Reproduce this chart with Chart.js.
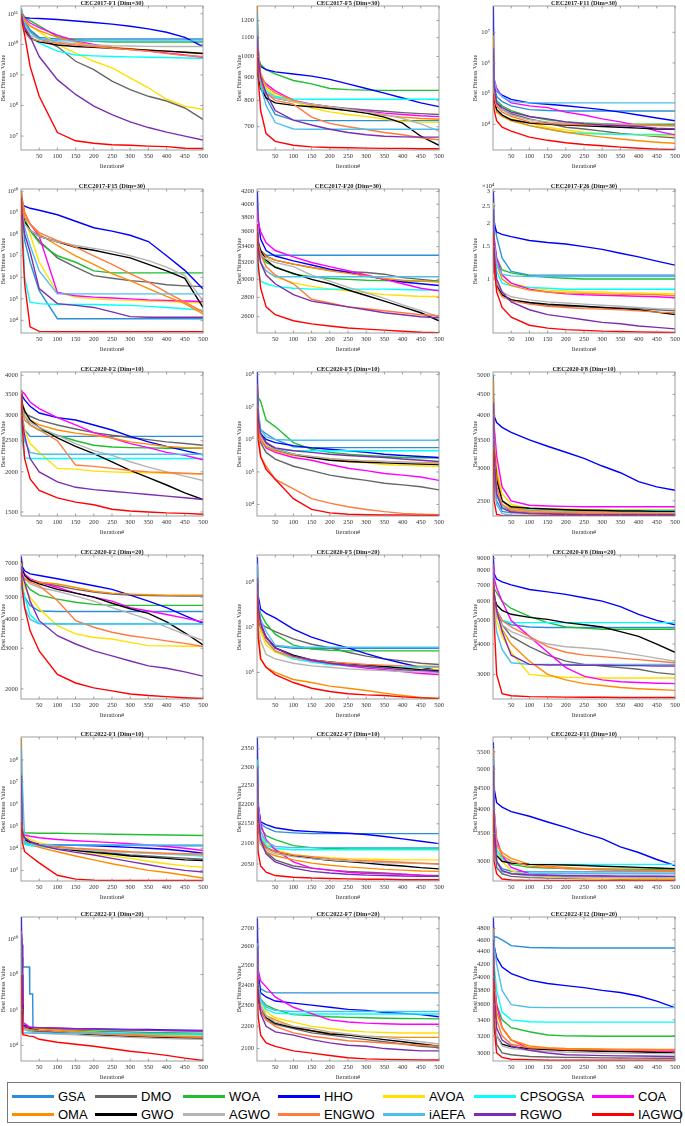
<!DOCTYPE html>
<html>
<head>
<meta charset="utf-8">
<script src="https://cdn.jsdelivr.net/npm/chart.js@4.4.1/dist/chart.umd.min.js"></script>
<style>
  body { margin: 0; background: #fff; }
  #page { position: relative; width: 685px; height: 1126px; overflow: hidden; background: #fff; }
  #page canvas { position: absolute; }
  #legend { position: absolute; left: 7px; top: 1082px; width: 674px; height: 41px; border: 1px solid #777; box-sizing: border-box;
            font-family: 'Liberation Sans', Arial, sans-serif; font-size: 13px; color: #000; }
  .item { position: absolute; height: 16px; line-height: 16px; white-space: nowrap; }
  .swatch { display: inline-block; width: 42px; height: 3px; vertical-align: middle; margin-right: 4px; position: relative; top: -1px; }
</style>
</head>
<body>
<div id="page"><div id="legend"></div></div>
<script>
const algorithms = ['GSA', 'DMO', 'WOA', 'HHO', 'AVOA', 'CPSOGSA', 'COA',
                    'OMA', 'GWO', 'AGWO', 'ENGWO', 'iAEFA', 'RGWO', 'IAGWO'];
const lineColors = ['#2b8fd8', '#666666', '#1fbf2f', '#0000ff', '#ffe000', '#00ffff', '#ff00ff',
                    '#ff8c00', '#000000', '#b4b4b4', '#ff7a3c', '#4dbfee', '#7b2fb0', '#ff0000'];

// sampled iterations (x values)
const iterations = [1, 3, 10, 25, 50, 100, 150, 200, 250, 300, 350, 400, 450, 500];
const iterationsF1d20 = [1, 3, 5, 23, 24, 32, 33, 50, 100, 150, 200, 250, 300, 350, 400, 450, 500];

// y tick values
const ticks2017F1 = [1e7, 1e8, 1e9, 1e10, 1e11];
const ticks2017F5 = [700, 800, 900, 1000, 1100, 1200];
const ticks2017F11 = [1e4, 1e5, 1e6, 1e7];
const ticks2017F15 = [1e4, 1e5, 1e6, 1e7, 1e8, 1e9, 1e10];
const ticks2017F20 = [2600, 2800, 3000, 3200, 3400, 3600, 3800, 4000, 4200];
const ticks2017F26 = [1e4, 1.5e4, 2e4, 2.5e4, 3e4];
const ticks2020F2d10 = [1500, 2000, 2500, 3000, 3500, 4000];
const ticks2020F5d10 = [1e4, 1e5, 1e6, 1e7, 1e8];
const ticks2020F8d10 = [2500, 3000, 3500, 4000, 4500, 5000];
const ticks2020F2d20 = [2000, 3000, 4000, 5000, 6000, 7000];
const ticks2020F5d20 = [1e6, 1e7, 1e8];
const ticks2020F8d20 = [3000, 4000, 5000, 6000, 7000, 8000, 9000];
const ticks2022F1d10 = [1e3, 1e4, 1e5, 1e6, 1e7, 1e8];
const ticks2022F7d10 = [2050, 2100, 2150, 2200, 2250, 2300, 2350];
const ticks2022F11d10 = [3000, 3500, 4000, 4500, 5000, 5500];
const ticks2022F1d20 = [1e4, 1e6, 1e8, 1e10];
const ticks2022F7d20 = [2100, 2200, 2300, 2400, 2500, 2600, 2700];
const ticks2022F12d20 = [3000, 3200, 3400, 3600, 3800, 4000, 4200, 4400, 4600, 4800];

// best fitness values, one row per algorithm (same order as algorithms)
const cec2017F1 = [
  [1.5e11, 1e11, 6e10, 3e10, 1.7e10, 1.5e10, 1.5e10, 1.5e10, 1.5e10, 1.5e10, 1.5e10, 1.5e10, 1.5e10, 1.5e10],
  [1.2e11, 9e10, 5e10, 2.6e10, 1.6e10, 8.5e9, 2.8e9, 1.5e9, 6.3e8, 3.3e8, 2e8, 1.4e8, 8.3e7, 3.5e7],
  [1.3e11, 1e11, 8e10, 6e10, 4e10, 1.8e10, 1.4e10, 1.25e10, 1.2e10, 1.2e10, 1.2e10, 1.2e10, 1.2e10, 1.2e10],
  [8e10, 7.6e10, 7.4e10, 7.2e10, 7e10, 6.5e10, 5.8e10, 5.2e10, 4.6e10, 3.9e10, 3.2e10, 2.5e10, 1.7e10, 8.5e9],
  [1.2e11, 9e10, 6e10, 4e10, 2.6e10, 1e10, 5.2e9, 2.8e9, 1.7e9, 8e8, 3.8e8, 1.6e8, 9.5e7, 7.4e7],
  [1.1e11, 7e10, 3.5e10, 1.8e10, 1.1e10, 6e9, 4.5e9, 4.2e9, 4e9, 3.9e9, 3.8e9, 3.7e9, 3.6e9, 3.5e9],
  [1.3e11, 1e11, 7e10, 5e10, 3.5e10, 2e10, 1.3e10, 1e10, 8e9, 6.8e9, 6e9, 5.2e9, 4.5e9, 3.8e9],
  [1.3e11, 1e11, 6.5e10, 4e10, 2.8e10, 1.7e10, 1.2e10, 9e9, 8e9, 7.2e9, 6.5e9, 6e9, 5.5e9, 5e9],
  [1.1e11, 7e10, 3e10, 1.6e10, 1.2e10, 9.5e9, 8.5e9, 8e9, 7.5e9, 7e9, 6.5e9, 6e9, 5.5e9, 5e9],
  [1.2e11, 8e10, 4e10, 2e10, 1.5e10, 1.2e10, 1.05e10, 9.5e9, 9e9, 8.8e9, 8.6e9, 8.5e9, 8.5e9, 8.5e9],
  [1.2e11, 6e10, 2.5e10, 1.5e10, 1.3e10, 1.1e10, 9.5e9, 8.5e9, 7.5e9, 6.8e9, 6e9, 5e9, 4.3e9, 4e9],
  [1.4e11, 9e10, 5e10, 2.5e10, 1.5e10, 1.32e10, 1.3e10, 1.3e10, 1.3e10, 1.3e10, 1.3e10, 1.3e10, 1.3e10, 1.3e10],
  [1e11, 7e10, 3.5e10, 1.8e10, 4e9, 7e8, 2.3e8, 9.5e7, 5e7, 2.9e7, 1.9e7, 1.35e7, 1e7, 7.4e6],
  [1e11, 5e10, 2e10, 1.9e9, 2e8, 1.3e7, 7e6, 5.8e6, 5.2e6, 5e6, 4.7e6, 4.5e6, 4e6, 3.9e6]
];
const cec2017F5 = [
  [1150, 1050, 880, 810, 745, 724, 722, 722, 722, 722, 722, 722, 722, 722],
  [1050, 960, 880, 830, 810, 795, 785, 775, 768, 762, 757, 752, 748, 745],
  [1100, 1000, 960, 935, 915, 885, 870, 850, 845, 843, 842, 842, 842, 842],
  [1100, 990, 950, 935, 925, 915, 905, 890, 870, 850, 830, 810, 790, 775],
  [1200, 1000, 900, 850, 820, 795, 770, 755, 745, 737, 728, 720, 717, 716],
  [1150, 980, 890, 840, 815, 806, 805, 805, 805, 805, 805, 805, 805, 805],
  [1180, 1000, 900, 870, 840, 800, 785, 775, 765, 757, 750, 745, 740, 737],
  [1290, 1050, 920, 860, 830, 800, 780, 770, 760, 750, 742, 735, 730, 727],
  [960, 900, 850, 810, 790, 780, 775, 768, 760, 750, 735, 713, 667, 637],
  [1000, 940, 880, 830, 810, 795, 785, 775, 765, 755, 745, 730, 710, 685],
  [1000, 940, 880, 830, 800, 785, 735, 712, 700, 690, 680, 672, 662, 655],
  [1250, 1050, 860, 780, 715, 692, 691, 691, 691, 691, 691, 691, 691, 691],
  [1110, 1000, 900, 830, 760, 724, 706, 691, 680, 672, 667, 665, 664, 664],
  [1040, 900, 760, 676, 650, 637, 632, 630, 629, 628, 627, 627, 626, 626]
];
const cec2017F11 = [
  [1e6, 2e5, 8e4, 5.5e4, 4e4, 3e4, 2.8e4, 2.7e4, 2.7e4, 2.7e4, 2.7e4, 2.7e4, 2.7e4, 2.7e4],
  [1e5, 7e4, 5e4, 3e4, 2.2e4, 1.5e4, 1.1e4, 8e3, 7e3, 6e3, 5e3, 4.5e3, 4e3, 3.6e3],
  [2e5, 1e5, 6e4, 4e4, 2.8e4, 1.8e4, 1.4e4, 1.2e4, 1.1e4, 1.05e4, 1e4, 1e4, 1e4, 1e4],
  [7e7, 1.4e5, 1.2e5, 9e4, 6.5e4, 5e4, 4.5e4, 4e4, 3.5e4, 3e4, 2.5e4, 2e4, 1.6e4, 1.3e4],
  [3e5, 8e4, 3e4, 2e4, 1.5e4, 1.1e4, 8e3, 6.5e3, 5.5e3, 5e3, 4.7e3, 4.5e3, 4.3e3, 4.2e3],
  [5e5, 9e4, 3e4, 2e4, 1.4e4, 9e3, 7e3, 5.5e3, 5e3, 4.8e3, 4.7e3, 4.7e3, 4.7e3, 4.7e3],
  [2e6, 3e5, 1.5e5, 8e4, 5e4, 4e4, 3.5e4, 2.5e4, 2e4, 1.5e4, 1.2e4, 9e3, 6e3, 4.5e3],
  [8e6, 1e5, 2.5e4, 1.8e4, 1.3e4, 9e3, 7e3, 5.5e3, 4.5e3, 3.8e3, 3.3e3, 2.9e3, 2.6e3, 2.4e3],
  [2e5, 7e4, 3e4, 2e4, 1.4e4, 1.1e4, 1e4, 9.5e3, 9e3, 8.5e3, 8e3, 7.5e3, 7e3, 6.8e3],
  [3e5, 8e4, 4e4, 3e4, 2e4, 1.4e4, 1.2e4, 1.1e4, 1.05e4, 1e4, 9.8e3, 9.5e3, 9.2e3, 9e3],
  [5e5, 8e4, 4e4, 2.5e4, 1.8e4, 1.2e4, 1.05e4, 1e4, 9.7e3, 9.5e3, 9.3e3, 9.2e3, 9.1e3, 9e3],
  [3e6, 3e5, 1.2e5, 8e4, 5.5e4, 5e4, 5e4, 5e4, 5e4, 5e4, 5e4, 5e4, 5e4, 5e4],
  [3e6, 2e5, 5e4, 3.5e4, 2.5e4, 1.8e4, 1.5e4, 1.2e4, 1.05e4, 9.5e3, 9e3, 8.5e3, 7.5e3, 7e3],
  [1e5, 3e4, 1.3e4, 8e3, 6e3, 3.8e3, 3e3, 2.5e3, 2.2e3, 2e3, 1.8e3, 1.65e3, 1.55e3, 1.5e3]
];
const cec2017F15 = [
  [3e9, 8e8, 5e7, 5e6, 2.4e5, 1.2e4, 1.2e4, 1.2e4, 1.2e4, 1.2e4, 1.2e4, 1.2e4, 1.2e4, 1.2e4],
  [5e9, 2e9, 5e8, 1.5e8, 5e7, 8e6, 3e6, 1.2e6, 9e5, 7e5, 6e5, 4.5e5, 4e5, 3.7e5],
  [6e9, 2e9, 5e8, 1.5e8, 4e7, 1e7, 5e6, 2e6, 1.6e6, 1.6e6, 1.6e6, 1.6e6, 1.6e6, 1.6e6],
  [1e10, 2.5e9, 2e9, 1.6e9, 1.3e9, 8e8, 4e8, 2e8, 1.4e8, 9e7, 4.6e7, 1e7, 2.1e6, 2.9e5],
  [6e9, 2e9, 5e8, 1e8, 5e6, 2e5, 1.2e5, 1e5, 9e4, 8.5e4, 8e4, 7.5e4, 7e4, 6.5e4],
  [5e9, 8e8, 1e6, 7e4, 6e4, 5.5e4, 5.5e4, 5.5e4, 5.2e4, 5e4, 4.5e4, 4e4, 3.5e4, 3e4],
  [6e9, 4e9, 1e9, 3e8, 8e7, 2e5, 1.4e5, 1.2e5, 1.1e5, 1e5, 9e4, 8.5e4, 8e4, 7.6e4],
  [1e10, 5e9, 1e9, 3e8, 1e8, 3e7, 1e7, 4e6, 1.5e6, 7e5, 3e5, 1.3e5, 6e4, 2e4],
  [5e9, 1e9, 4e8, 1.5e8, 8e7, 4.5e7, 2.5e7, 1.8e7, 1.2e7, 8e6, 4e6, 2e6, 9e5, 4e4],
  [5e9, 1e9, 3e8, 1.5e8, 8e7, 4.5e7, 3e7, 2.2e7, 1.6e7, 1e7, 6e6, 3e6, 1.2e6, 8e4],
  [4e9, 1.5e9, 6e8, 3e8, 1.2e8, 5e7, 2.5e7, 1e7, 4e6, 1.5e6, 6e5, 2e5, 7e4, 2.5e4],
  [5e9, 1e9, 2e8, 3e7, 2e6, 1.7e5, 1.7e5, 1.7e5, 1.7e5, 1.7e5, 1.7e5, 1.7e5, 1.7e5, 1.7e5],
  [3e9, 8e8, 1e8, 1.5e7, 3e5, 6e4, 5e4, 4e4, 2.5e4, 1.5e4, 1.4e4, 1.4e4, 1.4e4, 1.4e4],
  [5e9, 1e8, 5e5, 5e3, 3.1e3, 3e3, 3e3, 3e3, 3e3, 3e3, 3e3, 3e3, 3e3, 3e3]
];
const cec2017F20 = [
  [3700, 3500, 3350, 3290, 3290, 3290, 3290, 3290, 3290, 3290, 3290, 3290, 3290, 3290],
  [3500, 3420, 3350, 3280, 3230, 3180, 3140, 3110, 3090, 3080, 3060, 3020, 3000, 2980],
  [3600, 3400, 3300, 3200, 3150, 3060, 3030, 3010, 3000, 2990, 2985, 2980, 2980, 2980],
  [4200, 3800, 3500, 3350, 3280, 3220, 3170, 3120, 3080, 3040, 3000, 2970, 2950, 2930],
  [3500, 3300, 3200, 3100, 3030, 2960, 2920, 2890, 2870, 2850, 2830, 2820, 2810, 2810],
  [3400, 3100, 2980, 2950, 2920, 2900, 2890, 2890, 2890, 2890, 2890, 2885, 2880, 2880],
  [3900, 3750, 3600, 3450, 3350, 3270, 3200, 3150, 3100, 3050, 3000, 2950, 2900, 2870],
  [3600, 3450, 3350, 3270, 3230, 3180, 3140, 3100, 3070, 3040, 3010, 2990, 2980, 2970],
  [3600, 3450, 3350, 3230, 3140, 3070, 3000, 2950, 2880, 2820, 2760, 2700, 2640, 2560],
  [3500, 3400, 3300, 3240, 3200, 3150, 3050, 2980, 2910, 2850, 2790, 2720, 2660, 2600],
  [3700, 3450, 3300, 3150, 3050, 2950, 2780, 2740, 2700, 2680, 2660, 2640, 2620, 2610],
  [3600, 3400, 3200, 3100, 3030, 3030, 3030, 3030, 3030, 3030, 3030, 3030, 3030, 3030],
  [3700, 3400, 3200, 3050, 2950, 2830, 2760, 2730, 2700, 2670, 2640, 2620, 2600, 2590],
  [3700, 3200, 2900, 2700, 2620, 2560, 2530, 2510, 2490, 2480, 2470, 2460, 2450, 2445]
];
const cec2017F26 = [
  [22000, 21000, 17000, 13000, 11000, 10500, 10500, 10500, 10500, 10500, 10500, 10500, 10500, 10500],
  [15000, 12000, 9500, 8200, 7700, 7400, 7200, 7100, 7050, 7000, 6950, 6900, 6800, 6700],
  [20000, 16000, 13000, 11200, 10800, 10400, 10200, 10100, 10000, 10000, 10000, 10000, 10000, 10000],
  [30000, 20000, 18000, 17500, 17000, 16200, 15800, 15500, 15000, 14500, 13800, 13200, 12500, 11900],
  [26000, 16000, 12000, 10500, 9500, 9000, 8700, 8600, 8500, 8500, 8400, 8400, 8350, 8300],
  [25000, 15000, 11000, 9500, 9200, 9000, 8900, 8800, 8800, 8800, 8800, 8800, 8800, 8800],
  [24000, 17000, 13000, 10500, 9500, 8800, 8500, 8300, 8200, 8150, 8100, 8050, 8000, 7900],
  [20000, 15000, 12000, 10000, 9200, 8700, 8500, 8400, 8350, 8300, 8250, 8250, 8200, 8100],
  [14000, 11000, 9200, 8200, 7700, 7450, 7300, 7200, 7100, 7000, 6900, 6800, 6600, 6400],
  [15000, 11500, 9500, 8500, 8000, 7700, 7500, 7400, 7300, 7200, 7100, 7000, 6900, 6850],
  [16000, 11000, 9000, 8000, 7600, 7300, 7100, 7000, 6900, 6850, 6800, 6700, 6600, 6550],
  [25000, 16000, 12000, 10600, 10400, 10300, 10300, 10300, 10300, 10300, 10300, 10300, 10300, 10300],
  [24000, 14000, 10000, 8500, 7500, 6800, 6400, 6200, 6000, 5800, 5700, 5550, 5450, 5350],
  [18000, 12000, 8500, 7000, 6200, 5600, 5400, 5300, 5250, 5200, 5180, 5150, 5130, 5120]
];
const cec2020F2d10 = [
  [3300, 3000, 2700, 2580, 2580, 2580, 2580, 2580, 2580, 2580, 2580, 2580, 2580, 2580],
  [3200, 3100, 3050, 2980, 2900, 2800, 2720, 2650, 2600, 2560, 2520, 2480, 2450, 2420],
  [3400, 3150, 3000, 2800, 2700, 2600, 2500, 2420, 2390, 2380, 2375, 2370, 2370, 2370],
  [3600, 3450, 3350, 3200, 3050, 2950, 2900, 2800, 2700, 2580, 2480, 2400, 2330, 2260],
  [3300, 2900, 2700, 2450, 2300, 2050, 2040, 2010, 2000, 1990, 1985, 1980, 1975, 1970],
  [3000, 2500, 2210, 2200, 2200, 2200, 2200, 2200, 2200, 2200, 2200, 2200, 2200, 2200],
  [3600, 3550, 3500, 3300, 3150, 2950, 2800, 2650, 2550, 2450, 2380, 2300, 2250, 2180],
  [3600, 3300, 3100, 2900, 2800, 2700, 2640, 2600, 2550, 2480, 2440, 2400, 2380, 2370],
  [3500, 3250, 3100, 2900, 2750, 2550, 2400, 2280, 2150, 2020, 1920, 1820, 1720, 1640],
  [3300, 3100, 3000, 2850, 2750, 2600, 2450, 2330, 2250, 2150, 2070, 2000, 1940, 1880],
  [3400, 3100, 2900, 2800, 2700, 2500, 2100, 2080, 2050, 2020, 2000, 1990, 1980, 1970],
  [3200, 2800, 2500, 2300, 2270, 2270, 2270, 2270, 2270, 2270, 2270, 2270, 2270, 2270],
  [3300, 2900, 2600, 2200, 2000, 1860, 1790, 1760, 1740, 1720, 1700, 1680, 1660, 1640],
  [3500, 2800, 2200, 1900, 1750, 1660, 1610, 1580, 1530, 1510, 1500, 1490, 1485, 1475]
];
const cec2020F5d10 = [
  [3e7, 5e6, 2e6, 1.5e6, 1e6, 6e5, 5.6e5, 5.6e5, 5.6e5, 5.6e5, 5.6e5, 5.6e5, 5.6e5, 5.6e5],
  [1e7, 2e6, 8e5, 4e5, 2.5e5, 1.5e5, 1.1e5, 8e4, 6.5e4, 5.5e4, 4.5e4, 4e4, 3.5e4, 2.8e4],
  [3e7, 2e7, 1.5e7, 4e6, 2.5e6, 8e5, 5e5, 4e5, 3.5e5, 3.2e5, 3e5, 2.8e5, 2.75e5, 2.7e5],
  [1.2e8, 3e6, 1.5e6, 1e6, 8e5, 6.5e5, 5.5e5, 5e5, 4.5e5, 4e5, 3.5e5, 3.2e5, 3e5, 2.8e5],
  [2e7, 3e6, 1e6, 6e5, 4.5e5, 3.5e5, 3e5, 2.5e5, 2.1e5, 1.9e5, 1.7e5, 1.6e5, 1.55e5, 1.5e5],
  [2e7, 3e6, 1e6, 6e5, 5e5, 4.6e5, 4.5e5, 4.5e5, 4.5e5, 4.5e5, 4.5e5, 4.5e5, 4.5e5, 4.5e5],
  [5e7, 5e6, 1e6, 5.5e5, 4e5, 2.8e5, 2.3e5, 1.7e5, 1.3e5, 1.1e5, 9e4, 8e4, 7e4, 5.5e4],
  [4e7, 4e6, 1e6, 6e5, 4.5e5, 3.2e5, 2.8e5, 2.5e5, 2.3e5, 2.2e5, 2.1e5, 2e5, 1.95e5, 1.9e5],
  [3e7, 4e6, 1.5e6, 8e5, 5e5, 3.5e5, 2.8e5, 2.3e5, 2.1e5, 2e5, 1.9e5, 1.8e5, 1.75e5, 1.7e5],
  [2e7, 4e6, 1.3e6, 7e5, 5e5, 3.5e5, 3e5, 2.6e5, 2.4e5, 2.2e5, 2.1e5, 2e5, 1.9e5, 1.8e5],
  [8e6, 2e6, 3e5, 1.5e5, 6e4, 3e4, 1.5e4, 1.1e4, 8.5e3, 7e3, 6e3, 5.3e3, 5e3, 4.8e3],
  [5e7, 1e7, 2e6, 1.2e6, 1e6, 9.5e5, 9.5e5, 9.5e5, 9.5e5, 9.5e5, 9.5e5, 9.5e5, 9.5e5, 9.5e5],
  [5e7, 5e6, 1.5e6, 8e5, 5.5e5, 4.5e5, 4e5, 3.5e5, 3.2e5, 3e5, 2.8e5, 2.5e5, 2.3e5, 2.1e5],
  [9e6, 1e6, 3e5, 1.2e5, 6e4, 1.5e4, 7e3, 5.5e3, 5e3, 4.8e3, 4.7e3, 4.7e3, 4.6e3, 4.6e3]
];
const cec2020F8d10 = [
  [5000, 3000, 2500, 2360, 2340, 2340, 2340, 2340, 2340, 2340, 2340, 2340, 2340, 2340],
  [3800, 3000, 2600, 2420, 2360, 2340, 2335, 2330, 2325, 2325, 2320, 2320, 2320, 2320],
  [4200, 3400, 2900, 2500, 2400, 2360, 2350, 2340, 2335, 2335, 2330, 2330, 2330, 2330],
  [4300, 4000, 3850, 3750, 3650, 3500, 3380, 3270, 3160, 3030, 2920, 2780, 2700, 2650],
  [4200, 3500, 3000, 2600, 2450, 2400, 2395, 2390, 2385, 2385, 2380, 2380, 2380, 2380],
  [4800, 3200, 2600, 2420, 2390, 2380, 2378, 2376, 2375, 2374, 2373, 2372, 2371, 2370],
  [4400, 3800, 3200, 2700, 2500, 2440, 2430, 2425, 2420, 2420, 2420, 2420, 2420, 2420],
  [4900, 3600, 2900, 2500, 2400, 2370, 2365, 2360, 2355, 2355, 2350, 2350, 2350, 2350],
  [4000, 3300, 2800, 2500, 2420, 2400, 2390, 2380, 2375, 2370, 2365, 2365, 2360, 2360],
  [4000, 3200, 2700, 2450, 2380, 2360, 2355, 2350, 2345, 2345, 2340, 2340, 2340, 2340],
  [4500, 3300, 2700, 2450, 2370, 2350, 2345, 2340, 2335, 2335, 2330, 2330, 2330, 2330],
  [4000, 2800, 2450, 2330, 2310, 2310, 2310, 2310, 2310, 2310, 2310, 2310, 2310, 2310],
  [4300, 3200, 2600, 2400, 2350, 2330, 2325, 2320, 2318, 2316, 2315, 2315, 2315, 2315],
  [3300, 2500, 2320, 2305, 2302, 2300, 2300, 2300, 2300, 2300, 2300, 2300, 2300, 2300]
];
const cec2020F2d20 = [
  [6000, 5500, 5000, 4600, 4350, 4330, 4330, 4330, 4330, 4330, 4330, 4330, 4330, 4330],
  [6500, 6200, 6000, 5900, 5800, 5600, 5400, 5250, 5150, 5100, 5080, 5060, 5050, 5050],
  [6600, 6200, 5800, 5400, 5100, 4900, 4750, 4650, 4600, 4600, 4600, 4600, 4600, 4600],
  [7500, 6800, 6500, 6300, 6200, 6000, 5800, 5600, 5400, 5100, 4800, 4500, 4150, 3850],
  [6500, 6000, 5500, 5000, 4450, 3760, 3460, 3340, 3290, 3180, 3080, 3070, 3060, 3060],
  [6800, 5800, 5000, 4200, 3850, 3830, 3830, 3830, 3830, 3830, 3830, 3830, 3830, 3830],
  [7000, 6600, 6300, 6000, 5800, 5500, 5200, 5000, 4800, 4500, 4350, 4200, 4050, 3900],
  [6700, 6300, 6000, 5900, 5800, 5700, 5500, 5300, 5200, 5150, 5120, 5100, 5100, 5100],
  [7200, 6600, 6200, 5900, 5700, 5400, 5200, 5000, 4700, 4450, 4250, 3900, 3500, 3100],
  [7000, 6400, 6000, 5700, 5500, 5300, 5050, 4800, 4500, 4250, 4000, 3700, 3450, 3250],
  [6200, 6100, 6000, 5800, 5600, 4830, 3950, 3700, 3520, 3400, 3320, 3230, 3150, 3050],
  [6500, 5500, 4500, 4000, 3830, 3820, 3820, 3820, 3820, 3820, 3820, 3820, 3820, 3820],
  [6800, 6300, 5800, 4800, 3950, 3400, 3130, 2920, 2780, 2640, 2515, 2455, 2370, 2270],
  [6500, 5500, 4500, 3570, 2920, 2310, 2120, 2020, 1960, 1900, 1870, 1850, 1830, 1815]
];
const cec2020F5d20 = [
  [1e8, 3e7, 1.2e7, 6e6, 3.8e6, 3.4e6, 3.4e6, 3.4e6, 3.4e6, 3.4e6, 3.4e6, 3.4e6, 3.4e6, 3.4e6],
  [5e7, 2e7, 1.2e7, 1e7, 8e6, 5.5e6, 4.2e6, 3.5e6, 2.8e6, 2.3e6, 2e6, 1.8e6, 1.6e6, 1.5e6],
  [8e7, 3e7, 2e7, 1.2e7, 7e6, 4e6, 3.3e6, 3.1e6, 3e6, 3e6, 3e6, 3e6, 3e6, 3e6],
  [3.5e8, 5e7, 2.5e7, 2e7, 1.6e7, 9e6, 6e6, 4.5e6, 3.5e6, 2.6e6, 2e6, 1.6e6, 1.3e6, 1.1e6],
  [5e7, 1.5e7, 8e6, 4e6, 2.8e6, 2e6, 1.7e6, 1.5e6, 1.4e6, 1.3e6, 1.25e6, 1.2e6, 1.17e6, 1.15e6],
  [8e7, 2e7, 1e7, 5e6, 3e6, 2e6, 1.7e6, 1.5e6, 1.4e6, 1.35e6, 1.32e6, 1.3e6, 1.3e6, 1.3e6],
  [6e7, 2e7, 1.2e7, 6e6, 3.5e6, 2.2e6, 1.8e6, 1.6e6, 1.4e6, 1.25e6, 1.15e6, 1.05e6, 9.5e5, 9e5],
  [2e8, 1e7, 2e6, 1.3e6, 1e6, 7e5, 6e5, 5e5, 4.5e5, 4e5, 3.5e5, 3.1e5, 2.8e5, 2.7e5],
  [5e7, 2e7, 1e7, 6e6, 3.5e6, 2.4e6, 1.9e6, 1.7e6, 1.55e6, 1.45e6, 1.35e6, 1.25e6, 1.15e6, 1.1e6],
  [4e7, 1e7, 5e6, 2.5e6, 2e6, 1.6e6, 1.4e6, 1.3e6, 1.2e6, 1.15e6, 1.1e6, 1.05e6, 1.02e6, 1e6],
  [6e7, 2e7, 1e7, 5e6, 3e6, 2.2e6, 1.9e6, 1.7e6, 1.6e6, 1.5e6, 1.45e6, 1.4e6, 1.38e6, 1.35e6],
  [2.5e8, 4e7, 1.5e7, 8e6, 4e6, 3.6e6, 3.6e6, 3.6e6, 3.6e6, 3.6e6, 3.6e6, 3.6e6, 3.6e6, 3.6e6],
  [1.2e8, 3e7, 1.2e7, 6e6, 3.5e6, 2.3e6, 1.9e6, 1.6e6, 1.45e6, 1.35e6, 1.25e6, 1.15e6, 1.1e6, 1.05e6],
  [5e7, 6e6, 2e6, 1.3e6, 9e5, 6e5, 4.5e5, 3.8e5, 3.4e5, 3.2e5, 3.1e5, 2.9e5, 2.75e5, 2.65e5]
];
const cec2020F8d20 = [
  [7500, 6500, 5500, 5000, 4800, 4700, 4680, 4680, 4680, 4680, 4680, 4680, 4680, 4680],
  [6500, 6000, 5500, 4800, 4300, 3900, 3600, 3400, 3300, 3250, 3200, 3150, 3050, 3000],
  [7000, 6800, 6500, 6000, 5600, 5200, 4900, 4700, 4650, 4600, 4600, 4600, 4600, 4600],
  [9200, 7800, 7400, 7200, 7000, 6700, 6550, 6400, 6200, 6000, 5700, 5300, 5000, 4800],
  [7000, 6000, 5000, 4300, 3700, 3000, 2950, 2920, 2910, 2900, 2900, 2900, 2900, 2900],
  [8000, 6500, 5500, 5000, 4900, 4900, 4900, 4900, 4900, 4900, 4900, 4900, 4900, 4900],
  [8500, 7500, 6800, 6000, 5000, 4300, 3700, 3200, 2950, 2850, 2800, 2780, 2760, 2750],
  [7500, 6500, 5500, 4600, 4000, 3400, 3000, 2850, 2750, 2700, 2650, 2620, 2600, 2580],
  [7000, 6200, 5800, 5500, 5300, 5150, 5050, 4900, 4800, 4700, 4500, 4300, 4000, 3700],
  [7500, 6000, 5200, 4800, 4500, 4200, 4000, 3900, 3850, 3800, 3700, 3600, 3500, 3400],
  [7200, 6200, 5500, 5000, 4700, 4300, 3900, 3700, 3600, 3550, 3500, 3450, 3400, 3350],
  [6500, 5500, 4500, 3800, 3350, 3300, 3300, 3300, 3300, 3300, 3300, 3300, 3300, 3300],
  [7500, 6500, 5500, 4500, 3600, 3300, 3280, 3280, 3270, 3270, 3260, 3260, 3250, 3250],
  [7200, 5000, 3000, 2500, 2450, 2430, 2425, 2420, 2415, 2415, 2410, 2410, 2410, 2410]
];
const cec2022F1d10 = [
  [3e7, 5e4, 1.6e4, 1.55e4, 1.5e4, 1.45e4, 1.42e4, 1.4e4, 1.38e4, 1.36e4, 1.34e4, 1.32e4, 1.3e4, 1.3e4],
  [2e6, 4e4, 2.5e4, 1.8e4, 1.5e4, 1.1e4, 9e3, 7e3, 6e3, 5e3, 4.5e3, 4e3, 3.6e3, 3.2e3],
  [5e6, 6e4, 5e4, 4.9e4, 4.8e4, 4.8e4, 4.6e4, 4.5e4, 4.3e4, 4.2e4, 4.1e4, 4e4, 3.9e4, 3.8e4],
  [8e6, 5e4, 3e4, 2e4, 1.5e4, 1.4e4, 1.35e4, 1.3e4, 1.2e4, 1.1e4, 1e4, 9e3, 7.5e3, 6e3],
  [3e6, 6e4, 4e4, 2.5e4, 1.8e4, 1.2e4, 8e3, 6e3, 4.5e3, 3.5e3, 2.6e3, 2e3, 1.6e3, 1.4e3],
  [5e6, 3e4, 1.5e4, 1.3e4, 1.2e4, 1e4, 9e3, 8e3, 7.2e3, 6.5e3, 6e3, 5.5e3, 5e3, 4.5e3],
  [1e7, 8e4, 4e4, 3.5e4, 3e4, 2.5e4, 2.2e4, 2e4, 1.8e4, 1.6e4, 1.4e4, 1.2e4, 1e4, 8e3],
  [1e9, 1e5, 2.5e4, 1.6e4, 1.1e4, 7e3, 4.5e3, 3e3, 2e3, 1.4e3, 1e3, 800, 600, 450],
  [4e6, 4e4, 2.5e4, 1.8e4, 1.4e4, 1e4, 8e3, 6.5e3, 5.5e3, 4.5e3, 4e3, 3.5e3, 3e3, 2.8e3],
  [2e6, 3e4, 2e4, 1.6e4, 1.3e4, 1e4, 9e3, 8e3, 7e3, 6.5e3, 6e3, 5.5e3, 5.2e3, 5e3],
  [3e6, 4e4, 2e4, 1.6e4, 1.4e4, 1.2e4, 1e4, 9e3, 8e3, 7e3, 6.5e3, 6e3, 5.7e3, 5.5e3],
  [4e8, 2e7, 2e4, 1.5e4, 1.45e4, 1.42e4, 1.4e4, 1.4e4, 1.4e4, 1.4e4, 1.4e4, 1.4e4, 1.4e4, 1.4e4],
  [2e7, 6e4, 3e4, 2e4, 1.4e4, 9e3, 6.5e3, 5e3, 3.5e3, 2.5e3, 1.8e3, 1.3e3, 1e3, 850],
  [1.5e5, 2e4, 7e3, 4.5e3, 2.2e3, 600, 400, 360, 350, 348, 346, 345, 345, 345]
];
const cec2022F7d10 = [
  [2320, 2200, 2150, 2140, 2130, 2127, 2125, 2125, 2125, 2125, 2125, 2125, 2125, 2125],
  [2200, 2150, 2100, 2080, 2060, 2045, 2040, 2035, 2032, 2030, 2028, 2025, 2023, 2022],
  [2250, 2180, 2140, 2120, 2110, 2095, 2090, 2088, 2087, 2087, 2087, 2087, 2087, 2087],
  [2380, 2200, 2155, 2148, 2140, 2133, 2130, 2128, 2126, 2123, 2118, 2112, 2106, 2100],
  [2250, 2170, 2130, 2100, 2085, 2072, 2068, 2065, 2063, 2062, 2061, 2060, 2060, 2060],
  [2320, 2200, 2120, 2095, 2088, 2085, 2085, 2085, 2085, 2085, 2085, 2085, 2085, 2085],
  [2280, 2200, 2150, 2110, 2085, 2055, 2040, 2035, 2030, 2027, 2026, 2025, 2023, 2020],
  [2250, 2150, 2100, 2080, 2070, 2060, 2052, 2047, 2043, 2040, 2037, 2035, 2033, 2032],
  [2200, 2150, 2110, 2090, 2080, 2070, 2064, 2059, 2056, 2052, 2048, 2045, 2041, 2038],
  [2220, 2150, 2100, 2085, 2075, 2068, 2063, 2060, 2057, 2055, 2053, 2052, 2051, 2050],
  [2220, 2160, 2110, 2090, 2080, 2072, 2068, 2063, 2060, 2058, 2056, 2054, 2052, 2050],
  [2300, 2200, 2130, 2105, 2093, 2090, 2090, 2090, 2090, 2090, 2090, 2090, 2090, 2090],
  [2300, 2180, 2110, 2075, 2055, 2040, 2032, 2028, 2025, 2023, 2022, 2021, 2020, 2020],
  [2190, 2080, 2045, 2030, 2022, 2018, 2016, 2015, 2014, 2013, 2013, 2012, 2012, 2012]
];
const cec2022F11d10 = [
  [4300, 3600, 3000, 2880, 2840, 2830, 2830, 2830, 2830, 2830, 2830, 2830, 2830, 2830],
  [4500, 3500, 2900, 2800, 2760, 2740, 2735, 2730, 2725, 2725, 2720, 2720, 2720, 2720],
  [4800, 3800, 3200, 3050, 2950, 2900, 2890, 2880, 2875, 2875, 2870, 2870, 2870, 2870],
  [5800, 4500, 4150, 4050, 3950, 3850, 3730, 3620, 3500, 3400, 3250, 3150, 3030, 2930],
  [5000, 3900, 3200, 3000, 2850, 2780, 2750, 2740, 2735, 2730, 2725, 2720, 2720, 2720],
  [5300, 3800, 3200, 3050, 2970, 2950, 2950, 2950, 2950, 2950, 2950, 2950, 2950, 2950],
  [5000, 4000, 3400, 3100, 2900, 2800, 2780, 2770, 2765, 2765, 2760, 2760, 2760, 2760],
  [5600, 4000, 3300, 3150, 3050, 2950, 2920, 2900, 2885, 2870, 2860, 2850, 2845, 2840],
  [4500, 3600, 3100, 3000, 2970, 2950, 2945, 2940, 2930, 2920, 2910, 2900, 2890, 2880],
  [4800, 3700, 3000, 2850, 2800, 2770, 2760, 2750, 2748, 2745, 2743, 2742, 2741, 2740],
  [5100, 3900, 3300, 3100, 3000, 2920, 2900, 2880, 2870, 2860, 2855, 2855, 2850, 2850],
  [5300, 4000, 3000, 2830, 2810, 2800, 2800, 2800, 2800, 2800, 2800, 2800, 2800, 2800],
  [5100, 3700, 3000, 2850, 2800, 2780, 2775, 2770, 2768, 2766, 2764, 2762, 2761, 2760],
  [4000, 3000, 2800, 2720, 2705, 2700, 2700, 2700, 2700, 2700, 2700, 2700, 2700, 2700]
];
const cec2022F1d20 = [
  [2e10, 1e9, 2.7e8, 2.7e8, 8e6, 8e6, 5e4, 4.8e4, 4.7e4, 4.6e4, 4.6e4, 4.5e4, 4.5e4, 4.5e4, 4.4e4, 4.4e4, 4.4e4],
  [5e9, 1e6, 9e4, 7e4, 7e4, 6.5e4, 6.5e4, 6e4, 5.2e4, 4.6e4, 4.1e4, 3.7e4, 3.3e4, 3e4, 2.8e4, 2.6e4, 2.4e4],
  [1e10, 5e6, 1e5, 9e4, 9e4, 8.8e4, 8.8e4, 8e4, 7.5e4, 7e4, 6.5e4, 6e4, 5.7e4, 5.4e4, 5.1e4, 5e4, 4.8e4],
  [1.8e11, 1e8, 1.5e5, 1.05e5, 1.05e5, 1e5, 1e5, 9.5e4, 9e4, 8.7e4, 8.5e4, 8.2e4, 8e4, 7.8e4, 7.5e4, 7.2e4, 7e4],
  [3e9, 1e6, 1.2e5, 9e4, 9e4, 8.5e4, 8.5e4, 8e4, 7e4, 6e4, 5.3e4, 4.8e4, 4.4e4, 4e4, 3.8e4, 3.6e4, 3.5e4],
  [2e9, 5e5, 8e4, 7.5e4, 7.5e4, 7.2e4, 7.2e4, 7e4, 6.3e4, 5.8e4, 5.3e4, 5e4, 4.7e4, 4.4e4, 4.2e4, 4.1e4, 4e4],
  [3e10, 2e7, 2e5, 1.1e5, 1.1e5, 1.05e5, 1.05e5, 1e5, 9.2e4, 8.6e4, 8e4, 7.6e4, 7.3e4, 7e4, 6.8e4, 6.6e4, 6.5e4],
  [5e8, 1e6, 1.2e5, 9.5e4, 9.5e4, 9e4, 9e4, 9e4, 7.5e4, 6.3e4, 5.3e4, 4.6e4, 4e4, 3.6e4, 3.3e4, 3.1e4, 3e4],
  [8e9, 2e6, 1.3e5, 9e4, 9e4, 8e4, 8e4, 7e4, 5.8e4, 4.8e4, 4.1e4, 3.6e4, 3.2e4, 2.9e4, 2.7e4, 2.6e4, 2.5e4],
  [4e9, 5e5, 8e4, 6e4, 6e4, 5.5e4, 5.5e4, 5e4, 4.4e4, 3.9e4, 3.4e4, 3.1e4, 2.8e4, 2.6e4, 2.4e4, 2.3e4, 2.2e4],
  [2e9, 8e5, 1e5, 8e4, 8e4, 7.5e4, 7.5e4, 7e4, 6e4, 5.2e4, 4.5e4, 4e4, 3.6e4, 3.3e4, 3.1e4, 2.9e4, 2.8e4],
  [1e10, 5e4, 5e4, 5e4, 5e4, 4.9e4, 4.9e4, 4.9e4, 4.8e4, 4.8e4, 4.7e4, 4.7e4, 4.6e4, 4.6e4, 4.5e4, 4.5e4, 4.5e4],
  [2e10, 5e9, 1.2e5, 1e5, 1e5, 1e5, 1e5, 9.8e4, 9.3e4, 8.8e4, 8.3e4, 7.9e4, 7.5e4, 7.2e4, 6.9e4, 6.7e4, 6.5e4],
  [1e8, 1e5, 4e4, 3.3e4, 3.3e4, 3.2e4, 3.2e4, 2.2e4, 1.5e4, 1.15e4, 8.8e3, 6.4e3, 4.6e3, 3.6e3, 2.7e3, 1.9e3, 1.4e3]
];
const cec2022F7d20 = [
  [2650, 2450, 2380, 2365, 2360, 2360, 2360, 2360, 2360, 2360, 2360, 2360, 2360, 2360],
  [2400, 2330, 2270, 2230, 2210, 2190, 2170, 2160, 2150, 2140, 2130, 2120, 2110, 2105],
  [2500, 2400, 2330, 2300, 2280, 2255, 2250, 2245, 2242, 2240, 2238, 2237, 2236, 2235],
  [2760, 2450, 2360, 2340, 2320, 2310, 2300, 2290, 2280, 2275, 2265, 2260, 2255, 2245],
  [2450, 2380, 2320, 2270, 2240, 2220, 2200, 2190, 2180, 2175, 2172, 2170, 2170, 2170],
  [2600, 2420, 2320, 2280, 2262, 2258, 2258, 2258, 2258, 2258, 2258, 2258, 2258, 2258],
  [2600, 2480, 2420, 2390, 2340, 2290, 2260, 2230, 2220, 2215, 2212, 2210, 2210, 2210],
  [2550, 2400, 2300, 2250, 2230, 2200, 2180, 2170, 2160, 2155, 2152, 2150, 2150, 2150],
  [2450, 2350, 2280, 2240, 2215, 2195, 2180, 2165, 2160, 2150, 2140, 2130, 2120, 2110],
  [2500, 2380, 2300, 2250, 2220, 2200, 2190, 2175, 2165, 2155, 2150, 2140, 2130, 2120],
  [2500, 2360, 2280, 2230, 2200, 2170, 2155, 2145, 2135, 2130, 2125, 2120, 2115, 2110],
  [2620, 2400, 2330, 2290, 2275, 2270, 2270, 2270, 2270, 2270, 2270, 2270, 2270, 2270],
  [2600, 2380, 2260, 2200, 2175, 2160, 2140, 2125, 2115, 2110, 2100, 2095, 2090, 2090],
  [2450, 2250, 2160, 2125, 2110, 2090, 2080, 2070, 2060, 2055, 2053, 2052, 2051, 2050]
];
const cec2022F12d20 = [
  [4650, 4650, 4650, 4600, 4500, 4470, 4465, 4460, 4460, 4460, 4460, 4460, 4460, 4460],
  [4100, 3500, 3100, 3000, 2980, 2960, 2955, 2950, 2948, 2945, 2943, 2942, 2941, 2940],
  [4400, 3900, 3600, 3400, 3300, 3250, 3210, 3200, 3198, 3196, 3195, 3195, 3195, 3195],
  [5000, 4500, 4300, 4150, 4050, 3950, 3900, 3870, 3840, 3800, 3770, 3720, 3650, 3560],
  [4300, 3900, 3500, 3300, 3150, 3050, 3040, 3030, 3028, 3026, 3024, 3022, 3021, 3020],
  [4600, 4200, 3800, 3500, 3400, 3375, 3370, 3370, 3370, 3370, 3370, 3370, 3370, 3370],
  [4500, 4000, 3600, 3300, 3150, 3050, 3040, 3030, 3028, 3026, 3024, 3022, 3021, 3020],
  [4800, 4000, 3500, 3300, 3150, 3080, 3060, 3050, 3048, 3046, 3044, 3042, 3041, 3040],
  [4200, 3600, 3200, 3100, 3070, 3050, 3040, 3030, 3025, 3020, 3015, 3010, 3005, 3000],
  [4300, 3600, 3200, 3080, 3050, 3030, 3020, 3010, 3005, 3000, 2998, 2995, 2992, 2990],
  [4600, 3900, 3400, 3200, 3100, 3060, 3050, 3040, 3038, 3036, 3034, 3032, 3031, 3030],
  [4700, 4500, 4200, 3800, 3600, 3565, 3560, 3560, 3560, 3560, 3560, 3560, 3560, 3560],
  [4600, 3800, 3300, 3150, 3080, 3030, 3000, 2980, 2975, 2970, 2967, 2965, 2962, 2960],
  [4100, 3300, 3000, 2950, 2930, 2925, 2920, 2920, 2920, 2920, 2920, 2920, 2920, 2920]
];

const panels = [
  { title: 'CEC2017-F1 (Dim=30)',  x: iterations, data: cec2017F1,  ticks: ticks2017F1,  min: 3.5e6, max: 1.8e11, pow: true },
  { title: 'CEC2017-F5 (Dim=30)',  x: iterations, data: cec2017F5,  ticks: ticks2017F5,  min: 622,   max: 1292 },
  { title: 'CEC2017-F11 (Dim=30)', x: iterations, data: cec2017F11, ticks: ticks2017F11, min: 1450,  max: 7.2e7, pow: true },
  { title: 'CEC2017-F15 (Dim=30)', x: iterations, data: cec2017F15, ticks: ticks2017F15, min: 2600,  max: 1.26e10, pow: true },
  { title: 'CEC2017-F20 (Dim=30)', x: iterations, data: cec2017F20, ticks: ticks2017F20, min: 2443,  max: 4240 },
  { title: 'CEC2017-F26 (Dim=30)', x: iterations, data: cec2017F26, ticks: ticks2017F26, min: 5080,  max: 30900, factor: 4 },
  { title: 'CEC2020-F2 (Dim=10)',  x: iterations, data: cec2020F2d10, ticks: ticks2020F2d10, min: 1457, max: 4094 },
  { title: 'CEC2020-F5 (Dim=10)',  x: iterations, data: cec2020F5d10, ticks: ticks2020F5d10, min: 4400, max: 1.2e8, pow: true },
  { title: 'CEC2020-F8 (Dim=10)',  x: iterations, data: cec2020F8d10, ticks: ticks2020F8d10, min: 2300, max: 5090 },
  { title: 'CEC2020-F2 (Dim=20)',  x: iterations, data: cec2020F2d20, ticks: ticks2020F2d20, min: 1807, max: 7610 },
  { title: 'CEC2020-F5 (Dim=20)',  x: iterations, data: cec2020F5d20, ticks: ticks2020F5d20, min: 2.6e5, max: 3.9e8, pow: true },
  { title: 'CEC2020-F8 (Dim=20)',  x: iterations, data: cec2020F8d20, ticks: ticks2020F8d20, min: 2377, max: 9290 },
  { title: 'CEC2022-F1 (Dim=10)',  x: iterations, data: cec2022F1d10, ticks: ticks2022F1d10, min: 330, max: 1.1e9, pow: true },
  { title: 'CEC2022-F7 (Dim=10)',  x: iterations, data: cec2022F7d10, ticks: ticks2022F7d10, min: 2009, max: 2383 },
  { title: 'CEC2022-F11 (Dim=10)', x: iterations, data: cec2022F11d10, ticks: ticks2022F11d10, min: 2690, max: 5970 },
  { title: 'CEC2022-F1 (Dim=20)',  x: iterationsF1d20, data: cec2022F1d20, ticks: ticks2022F1d20, min: 1300, max: 1.8e11, pow: true },
  { title: 'CEC2022-F7 (Dim=20)',  x: iterations, data: cec2022F7d20, ticks: ticks2022F7d20, min: 2046, max: 2767 },
  { title: 'CEC2022-F12 (Dim=20)', x: iterations, data: cec2022F12d20, ticks: ticks2022F12d20, min: 2910, max: 5015 }
];

const xTicks = [50, 100, 150, 200, 250, 300, 350, 400, 450, 500];

// layout of the 6 x 3 grid
const colLeft = [20.5, 257, 493];
const rowTop = [6, 189, 372, 555, 737, 917];
const plotW = 182, plotH = 144;
const padL = 24, padR = 8, padT = 10, padB = 20;
const serif = "'Liberation Serif', 'Times New Roman', serif";

function sup(n) {
  const m = { '0': '\u2070', '1': '\u00b9', '2': '\u00b2', '3': '\u00b3', '4': '\u2074', '5': '\u2075',
              '6': '\u2076', '7': '\u2077', '8': '\u2078', '9': '\u2079', '-': '\u207b' };
  return String(n).split('').map(c => m[c]).join('');
}

// box, inward tick marks, panel title and exponent note
const framePlugin = {
  id: 'frame',
  afterDatasetsDraw(chart, args, opts) {
    const { ctx, chartArea: a } = chart;
    ctx.save();
    ctx.strokeStyle = '#888';
    ctx.lineWidth = 0.8;
    ctx.strokeRect(a.left, a.top, a.right - a.left, a.bottom - a.top);
    ctx.beginPath();
    chart.scales.x.ticks.forEach(t => {
      const px = chart.scales.x.getPixelForValue(t.value);
      ctx.moveTo(px, a.bottom); ctx.lineTo(px, a.bottom - 2.5);
      ctx.moveTo(px, a.top); ctx.lineTo(px, a.top + 2.5);
    });
    chart.scales.y.ticks.forEach(t => {
      const py = chart.scales.y.getPixelForValue(t.value);
      ctx.moveTo(a.left, py); ctx.lineTo(a.left + 2.5, py);
      ctx.moveTo(a.right, py); ctx.lineTo(a.right - 2.5, py);
    });
    ctx.stroke();

    ctx.fillStyle = '#1a1a1a';
    ctx.font = 'bold 6.4px ' + serif;
    ctx.textAlign = 'center';
    ctx.textBaseline = 'alphabetic';
    ctx.fillText(opts.title, (a.left + a.right) / 2, a.top - 1.5);
    if (opts.factor) {
      ctx.font = '6.4px ' + serif;
      ctx.textAlign = 'left';
      ctx.fillText('\u00d710' + sup(opts.factor), a.left - 11, a.top - 1.5);
    }
    ctx.restore();
  }
};

const page = document.getElementById('page');

panels.forEach((p, k) => {
  const row = Math.floor(k / 3), col = k % 3;
  const W = padL + plotW + padR, H = padT + plotH + padB;
  const canvas = document.createElement('canvas');
  canvas.width = W; canvas.height = H;
  canvas.style.left = (colLeft[col] - padL) + 'px';
  canvas.style.top = (rowTop[row] - padT) + 'px';
  canvas.style.width = W + 'px'; canvas.style.height = H + 'px';
  page.appendChild(canvas);

  const datasets = algorithms.map((name, i) => ({
    label: name,
    data: p.x.map((it, j) => ({ x: it, y: p.data[i][j] })),
    borderColor: lineColors[i],
    borderWidth: 1.4,
    pointRadius: 0,
    tension: 0,
    fill: false,
    order: algorithms.length - i
  }));

  new Chart(canvas.getContext('2d'), {
    type: 'line',
    data: { datasets },
    plugins: [framePlugin],
    options: {
      responsive: false,
      animation: false,
      events: [],
      layout: { padding: { top: padT, right: padR, left: 0, bottom: 0 } },
      plugins: {
        legend: { display: false },
        tooltip: { enabled: false },
        frame: { title: p.title, factor: p.factor }
      },
      scales: {
        x: {
          type: 'linear', min: 0, max: 500,
          grid: { display: false, drawTicks: false }, border: { display: false },
          afterBuildTicks: s => { s.ticks = xTicks.map(v => ({ value: v })); },
          afterFit: s => { s.height = padB; s.paddingLeft = 0; s.paddingRight = 0; },
          ticks: { color: '#333', font: { family: serif, size: 6.5 }, padding: 2, maxRotation: 0, autoSkip: false },
          title: { display: true, text: 'Iteration#', color: '#333', font: { family: serif, size: 6.3 }, padding: 0 }
        },
        y: {
          type: 'logarithmic', min: p.min, max: p.max, bounds: 'data',
          grid: { display: false, drawTicks: false }, border: { display: false },
          afterBuildTicks: s => { s.ticks = p.ticks.map(v => ({ value: v })); },
          afterFit: s => { s.width = padL; s.paddingTop = 0; s.paddingBottom = 0; },
          ticks: {
            color: '#333', font: { family: serif, size: 6.5 }, padding: 3, autoSkip: false,
            callback: v => p.pow ? '10' + sup(Math.round(Math.log10(v)))
                          : p.factor ? String(v / Math.pow(10, p.factor)) : String(v)
          },
          title: { display: true, text: 'Best Fitness Value', color: '#333', font: { family: serif, size: 6.3 },
                   padding: { top: 2.5, bottom: 0 } }
        }
      }
    }
  });
});

// legend: 2 rows x 7 columns
const legendLineX = [4, 87, 175, 270, 375, 466, 584];
const legendRowY = [6, 24];
const legend = document.getElementById('legend');
algorithms.forEach((name, i) => {
  const item = document.createElement('div');
  item.className = 'item';
  item.style.left = legendLineX[i % 7] + 'px';
  item.style.top = legendRowY[Math.floor(i / 7)] + 'px';
  item.innerHTML = '<span class="swatch" style="background:' + lineColors[i] + '"></span>' + name;
  legend.appendChild(item);
});
</script>
</body>
</html>
